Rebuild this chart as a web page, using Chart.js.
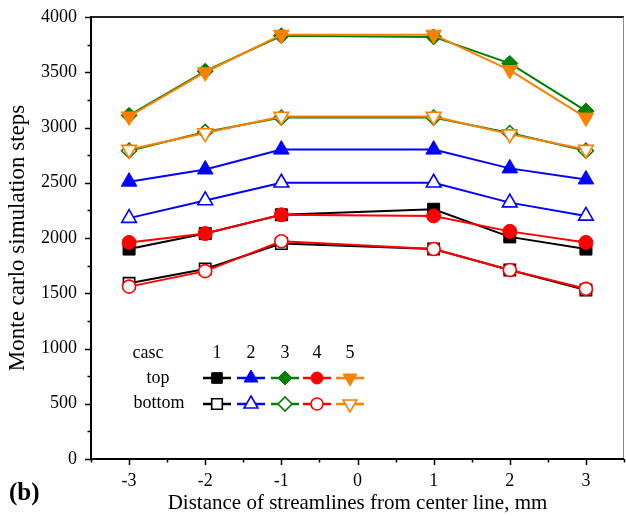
<!DOCTYPE html>
<html>
<head>
<meta charset="utf-8">
<script src="https://cdn.jsdelivr.net/npm/chart.js@4"></script>
<style>
html,body{margin:0;padding:0;background:#fff;}
#wrap{position:relative;width:626px;height:516px;}
</style>
</head>
<body>
<div id="wrap"><canvas id="c" width="626" height="516"></canvas></div>
<script>
const xValues = [-3, -2, -1, 1, 2, 3];
const xTickLabels = [-3, -2, -1, 0, 1, 2, 3];
const yTickLabels = [0, 500, 1000, 1500, 2000, 2500, 3000, 3500, 4000];
const caseNames = ['1', '2', '3', '4', '5'];
const case1Top    = [1900, 2040, 2210, 2260, 2010, 1900];
const case1Bottom = [1590, 1720, 1950, 1900, 1710, 1530];
const case2Top    = [2510, 2620, 2800, 2800, 2630, 2530];
const case2Bottom = [2180, 2340, 2500, 2500, 2320, 2200];
const case3Top    = [3110, 3510, 3830, 3820, 3580, 3150];
const case3Bottom = [2790, 2960, 3090, 3090, 2950, 2790];
const case4Top    = [1960, 2040, 2210, 2200, 2060, 1960];
const case4Bottom = [1560, 1700, 1970, 1900, 1710, 1540];
const case5Top    = [3100, 3500, 3840, 3840, 3520, 3090];
const case5Bottom = [2800, 2950, 3100, 3100, 2940, 2800];

const colors = ['#000000', '#0000ff', '#007f00', '#ff0000', '#ff7f00'];
const styles = [
  {pointStyle: 'rect', radius: 8.5, rotation: 0},
  {pointStyle: 'triangle', radius: 9, rotation: 0},
  {pointStyle: 'rectRot', radius: 8, rotation: 0},
  {pointStyle: 'circle', radius: 7, rotation: 0},
  {pointStyle: 'triangle', radius: 9, rotation: 180}
];
const tops = [case1Top, case2Top, case3Top, case4Top, case5Top];
const bottoms = [case1Bottom, case2Bottom, case3Bottom, case4Bottom, case5Bottom];
const drawOrder = [5, 9, 3, 1, 0]; // lower = on top

const datasets = [];
for (let i = 0; i < 5; i++) {
  datasets.push({
    label: 'case ' + caseNames[i] + ' top',
    data: xValues.map((x, j) => ({x: x, y: tops[i][j]})),
    borderColor: colors[i], backgroundColor: colors[i],
    pointBackgroundColor: colors[i], pointBorderColor: colors[i],
    borderWidth: 2, pointBorderWidth: 1,
    pointStyle: styles[i].pointStyle, pointRadius: styles[i].radius,
    pointRotation: styles[i].rotation, order: drawOrder[i]
  });
  datasets.push({
    label: 'case ' + caseNames[i] + ' bottom',
    data: xValues.map((x, j) => ({x: x, y: bottoms[i][j]})),
    borderColor: colors[i], backgroundColor: colors[i],
    pointBackgroundColor: '#ffffff', pointBorderColor: colors[i],
    borderWidth: 2, pointBorderWidth: 1.6,
    pointStyle: styles[i].pointStyle, pointRadius: styles[i].radius - 0.5,
    pointRotation: styles[i].rotation, order: drawOrder[i] + 0.5
  });
}

const SERIF = '"Liberation Serif", "Times New Roman", serif';

const frameAndTicks = {
  id: 'frameAndTicks',
  afterDraw(chart) {
    const {ctx, chartArea: a, scales: {x, y}} = chart;
    ctx.save();
    ctx.strokeStyle = '#222';
    ctx.lineWidth = 2;
    ctx.beginPath();
    ctx.moveTo(a.left, a.top); ctx.lineTo(a.right, a.top);
    ctx.stroke();
    ctx.strokeStyle = '#888';
    ctx.lineWidth = 1;
    ctx.beginPath();
    ctx.moveTo(a.right - 0.5, a.top); ctx.lineTo(a.right - 0.5, a.bottom);
    ctx.stroke();
    ctx.strokeStyle = '#000';
    ctx.lineWidth = 2;
    ctx.beginPath();
    ctx.moveTo(a.left, a.top - 1); ctx.lineTo(a.left, a.bottom + 1);
    ctx.moveTo(a.left - 1, a.bottom); ctx.lineTo(a.right, a.bottom);
    ctx.stroke();
    ctx.lineWidth = 1.5;
    ctx.beginPath();
    for (let v = 0; v <= 4000; v += 250) {
      const py = Math.round(y.getPixelForValue(v)) + 0.5;
      const len = (v % 500 === 0) ? 6 : 3.5;
      ctx.moveTo(a.left, py); ctx.lineTo(a.left - len, py);
    }
    for (let v = -3.5; v <= 3.5001; v += 0.5) {
      const px = Math.round(x.getPixelForValue(v)) + 0.5;
      const len = (Math.abs(v % 1) < 1e-6) ? 6 : 3.5;
      ctx.moveTo(px, a.bottom); ctx.lineTo(px, a.bottom + len);
    }
    ctx.stroke();
    ctx.restore();
  }
};

const customLegend = {
  id: 'customLegend',
  afterDraw(chart) {
    const ctx = chart.ctx;
    ctx.save();
    ctx.fillStyle = '#000';
    ctx.font = '18px ' + SERIF;
    ctx.textAlign = 'center';
    ctx.textBaseline = 'middle';
    ctx.fillText('casc', 148, 353);
    ctx.fillText('top', 158, 378);
    ctx.fillText('bottom', 159, 403);
    const cx = [217, 251, 285, 317, 350];
    for (let i = 0; i < 5; i++) {
      ctx.fillStyle = '#000';
      ctx.fillText(caseNames[i], cx[i], 353);
      [378, 404].forEach((ry, k) => {
        ctx.strokeStyle = colors[i];
        ctx.lineWidth = 2.5;
        ctx.beginPath();
        ctx.moveTo(cx[i] - 14, ry); ctx.lineTo(cx[i] + 14, ry);
        ctx.stroke();
        ctx.fillStyle = k === 0 ? colors[i] : '#ffffff';
        ctx.lineWidth = k === 0 ? 1 : 1.6;
        Chart.helpers.drawPoint(ctx, {
          pointStyle: styles[i].pointStyle,
          radius: styles[i].radius - 1,
          rotation: styles[i].rotation,
          borderWidth: ctx.lineWidth
        }, cx[i], ry);
      });
    }
    ctx.fillStyle = '#000';
    ctx.font = 'bold 25px ' + SERIF;
    ctx.textAlign = 'left';
    ctx.fillText('(b)', 9, 494);
    ctx.restore();
  }
};

new Chart(document.getElementById('c'), {
  type: 'line',
  data: {datasets: datasets},
  options: {
    responsive: false,
    animation: false,
    layout: {autoPadding: false, padding: {top: 17, right: 2, left: 0, bottom: 0}},
    plugins: {legend: {display: false}, tooltip: {enabled: false}},
    scales: {
      x: {
        type: 'linear', min: -3.5, max: 3.5,
        afterBuildTicks: s => { s.ticks = xTickLabels.map(v => ({value: v})); },
        afterFit: s => { s.height = 57; s.paddingLeft = 0; s.paddingRight = 0; },
        grid: {display: false, drawTicks: false},
        border: {display: false},
        ticks: {color: '#000', font: {family: SERIF, size: 18}, padding: 11,
                callback: v => String(v)},
        title: {display: true, text: 'Distance of streamlines from center line, mm',
                color: '#000', font: {family: SERIF, size: 21}, padding: {top: 0, bottom: 0}}
      },
      y: {
        type: 'linear', min: 0, max: 4000,
        afterBuildTicks: s => { s.ticks = yTickLabels.map(v => ({value: v})); },
        afterFit: s => { s.width = 91; s.paddingTop = 0; s.paddingBottom = 0; },
        grid: {display: false, drawTicks: false},
        border: {display: false},
        ticks: {color: '#000', font: {family: SERIF, size: 18}, padding: 14,
                callback: v => String(v)},
        title: {display: true, text: 'Monte carlo simulation steps',
                color: '#000', font: {family: SERIF, size: 23}, padding: {top: 4, bottom: 0}}
      }
    }
  },
  plugins: [frameAndTicks, customLegend]
});
</script>
</body>
</html>
